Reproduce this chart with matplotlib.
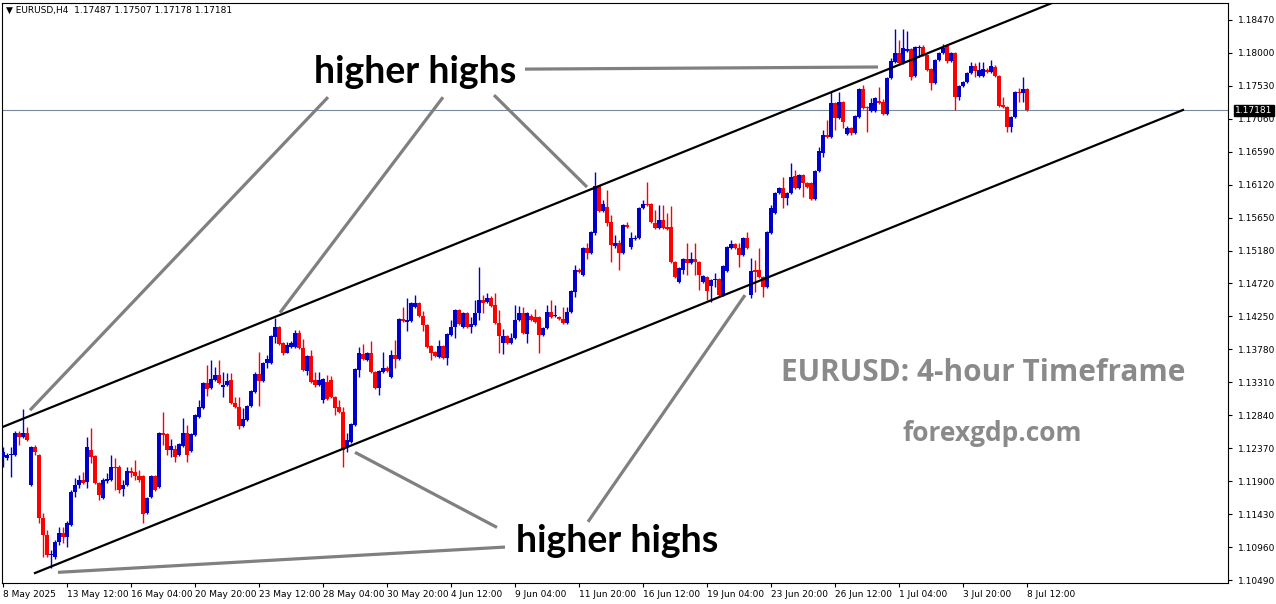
import matplotlib
matplotlib.use("Agg")
import matplotlib.pyplot as plt
import numpy as np

# EURUSD H4 bars, 8 May 2025 20:00 .. 8 Jul 2025 12:00
opens = [
    1.1224, 1.1223, 1.1227, 1.1227, 1.1258, 1.1253, 1.1258, 1.1184, 1.1238, 1.1227,
    1.1137, 1.1113, 1.1085, 1.1082, 1.1103, 1.1116, 1.1110, 1.1127, 1.1174, 1.1184,
    1.1192, 1.1189, 1.1234, 1.1226, 1.1187, 1.1166, 1.1190, 1.1192, 1.1210, 1.1210,
    1.1179, 1.1184, 1.1204, 1.1203, 1.1197, 1.1197, 1.1144, 1.1167, 1.1197, 1.1182,
    1.1258, 1.1257, 1.1234, 1.1236, 1.1227, 1.1240, 1.1258, 1.1233, 1.1256, 1.1281,
    1.1294, 1.1330, 1.1323, 1.1334, 1.1341, 1.1324, 1.1327, 1.1334, 1.1301, 1.1296,
    1.1268, 1.1277, 1.1297, 1.1317, 1.1343, 1.1333, 1.1358, 1.1358, 1.1395, 1.1410,
    1.1387, 1.1373, 1.1381, 1.1381, 1.1401, 1.1380, 1.1347, 1.1368, 1.1334, 1.1327,
    1.1306, 1.1331, 1.1334, 1.1310, 1.1296, 1.1288, 1.1238, 1.1246, 1.1270, 1.1348,
    1.1371, 1.1363, 1.1373, 1.1345, 1.1323, 1.1345, 1.1351, 1.1338, 1.1370, 1.1364,
    1.1421, 1.1417, 1.1418, 1.1438, 1.1444, 1.1425, 1.1412, 1.1382, 1.1374, 1.1367,
    1.1382, 1.1365, 1.1398, 1.1410, 1.1434, 1.1410, 1.1430, 1.1410, 1.1412, 1.1430,
    1.1448, 1.1445, 1.1451, 1.1441, 1.1415, 1.1387, 1.1397, 1.1387, 1.1394, 1.1420,
    1.1430, 1.1400, 1.1425, 1.1424, 1.1424, 1.1398, 1.1408, 1.1431, 1.1425, 1.1424,
    1.1421, 1.1415, 1.1431, 1.1459, 1.1491, 1.1484, 1.1522, 1.1515, 1.1543, 1.1610,
    1.1575, 1.1580, 1.1559, 1.1525, 1.1529, 1.1515, 1.1555, 1.1524, 1.1535, 1.1536,
    1.1579, 1.1585, 1.1585, 1.1558, 1.1551, 1.1562, 1.1552, 1.1552, 1.1502, 1.1474,
    1.1491, 1.1506, 1.1501, 1.1506, 1.1502, 1.1474, 1.1481, 1.1468, 1.1477, 1.1478,
    1.1455, 1.1489, 1.1522, 1.1528, 1.1522, 1.1512, 1.1536, 1.1455, 1.1491, 1.1491,
    1.1481, 1.1467, 1.1543, 1.1572, 1.1601, 1.1608, 1.1593, 1.1601, 1.1625, 1.1608,
    1.1626, 1.1615, 1.1615, 1.1592, 1.1632, 1.1658, 1.1683, 1.1680, 1.1729, 1.1707,
    1.1730, 1.1685, 1.1693, 1.1686, 1.1709, 1.1749, 1.1723, 1.1717, 1.1717, 1.1732,
    1.1730, 1.1713, 1.1764, 1.1787, 1.1800, 1.1786, 1.1803, 1.1806, 1.1767, 1.1807,
    1.1808, 1.1797, 1.1777, 1.1757, 1.1790, 1.1800, 1.1810, 1.1789, 1.1800, 1.1737,
    1.1753, 1.1759, 1.1772, 1.1781, 1.1767, 1.1767, 1.1776, 1.1773, 1.1780, 1.1767,
    1.1726, 1.1723, 1.1695, 1.1709, 1.1744, 1.1743, 1.17487,
]
highs = [
    1.1238, 1.1230, 1.1238, 1.1261, 1.1261, 1.1293, 1.1267, 1.1240, 1.1241, 1.1229,
    1.1144, 1.1120, 1.1092, 1.1106, 1.1124, 1.1124, 1.1133, 1.1177, 1.1194, 1.1199,
    1.1203, 1.1253, 1.1265, 1.1227, 1.1189, 1.1194, 1.1201, 1.1227, 1.1223, 1.1213,
    1.1192, 1.1210, 1.1210, 1.1220, 1.1206, 1.1199, 1.1167, 1.1199, 1.1199, 1.1260,
    1.1288, 1.1258, 1.1250, 1.1241, 1.1244, 1.1280, 1.1270, 1.1258, 1.1286, 1.1306,
    1.1331, 1.1355, 1.1363, 1.1353, 1.1363, 1.1345, 1.1344, 1.1344, 1.1310, 1.1310,
    1.1294, 1.1298, 1.1320, 1.1345, 1.1374, 1.1360, 1.1370, 1.1398, 1.1422, 1.1411,
    1.1388, 1.1388, 1.1390, 1.1405, 1.1405, 1.1392, 1.1370, 1.1377, 1.1345, 1.1345,
    1.1337, 1.1341, 1.1340, 1.1311, 1.1306, 1.1296, 1.1258, 1.1273, 1.1351, 1.1381,
    1.1385, 1.1374, 1.1390, 1.1347, 1.1348, 1.1374, 1.1354, 1.1377, 1.1391, 1.1422,
    1.1438, 1.1451, 1.1445, 1.1455, 1.1445, 1.1432, 1.1414, 1.1384, 1.1375, 1.1391,
    1.1384, 1.1401, 1.1420, 1.1435, 1.1435, 1.1431, 1.1431, 1.1424, 1.1448, 1.1495,
    1.1455, 1.1458, 1.1454, 1.1458, 1.1434, 1.1407, 1.1398, 1.1401, 1.1441, 1.1440,
    1.1438, 1.1431, 1.1428, 1.1435, 1.1425, 1.1410, 1.1441, 1.1448, 1.1441, 1.1425,
    1.1438, 1.1438, 1.1462, 1.1498, 1.1494, 1.1524, 1.1529, 1.1546, 1.1630, 1.1612,
    1.1591, 1.1605, 1.1569, 1.1541, 1.1534, 1.1556, 1.1559, 1.1545, 1.1541, 1.1580,
    1.1591, 1.1616, 1.1586, 1.1576, 1.1583, 1.1583, 1.1572, 1.1582, 1.1504, 1.1495,
    1.1508, 1.1529, 1.1516, 1.1529, 1.1504, 1.1484, 1.1482, 1.1478, 1.1486, 1.1479,
    1.1498, 1.1525, 1.1534, 1.1529, 1.1529, 1.1538, 1.1545, 1.1508, 1.1505, 1.1522,
    1.1482, 1.1546, 1.1583, 1.1602, 1.1609, 1.1623, 1.1602, 1.1643, 1.1633, 1.1628,
    1.1628, 1.1616, 1.1616, 1.1633, 1.1666, 1.1690, 1.1705, 1.1744, 1.1730, 1.1744,
    1.1732, 1.1696, 1.1695, 1.1712, 1.1750, 1.1754, 1.1724, 1.1736, 1.1737, 1.1752,
    1.1734, 1.1766, 1.1793, 1.1834, 1.1818, 1.1834, 1.1831, 1.1807, 1.1810, 1.1811,
    1.1811, 1.1799, 1.1779, 1.1791, 1.1801, 1.1813, 1.1811, 1.1801, 1.1801, 1.1754,
    1.1760, 1.1773, 1.1787, 1.1786, 1.1787, 1.1787, 1.1779, 1.1790, 1.1783, 1.1769,
    1.1737, 1.1724, 1.1710, 1.1746, 1.1750, 1.1766, 1.17507,
]
lows = [
    1.1210, 1.1220, 1.1196, 1.1226, 1.1241, 1.1251, 1.1247, 1.1183, 1.1227, 1.1130,
    1.1082, 1.1082, 1.1066, 1.1079, 1.1099, 1.1102, 1.1096, 1.1126, 1.1167, 1.1180,
    1.1186, 1.1180, 1.1216, 1.1186, 1.1163, 1.1164, 1.1187, 1.1190, 1.1177, 1.1173,
    1.1169, 1.1183, 1.1196, 1.1192, 1.1189, 1.1130, 1.1143, 1.1166, 1.1176, 1.1180,
    1.1241, 1.1227, 1.1224, 1.1217, 1.1226, 1.1238, 1.1217, 1.1231, 1.1254, 1.1280,
    1.1293, 1.1311, 1.1321, 1.1333, 1.1328, 1.1310, 1.1325, 1.1300, 1.1294, 1.1264,
    1.1267, 1.1276, 1.1296, 1.1316, 1.1297, 1.1331, 1.1351, 1.1357, 1.1387, 1.1384,
    1.1370, 1.1372, 1.1380, 1.1380, 1.1378, 1.1347, 1.1341, 1.1330, 1.1324, 1.1325,
    1.1301, 1.1306, 1.1308, 1.1284, 1.1287, 1.1210, 1.1231, 1.1244, 1.1268, 1.1338,
    1.1363, 1.1361, 1.1344, 1.1321, 1.1313, 1.1344, 1.1345, 1.1337, 1.1351, 1.1363,
    1.1417, 1.1404, 1.1417, 1.1437, 1.1424, 1.1404, 1.1380, 1.1363, 1.1367, 1.1365,
    1.1364, 1.1355, 1.1397, 1.1394, 1.1412, 1.1408, 1.1408, 1.1401, 1.1411, 1.1420,
    1.1430, 1.1444, 1.1438, 1.1414, 1.1373, 1.1371, 1.1385, 1.1385, 1.1392, 1.1418,
    1.1400, 1.1387, 1.1418, 1.1415, 1.1373, 1.1397, 1.1407, 1.1422, 1.1424, 1.1420,
    1.1414, 1.1414, 1.1430, 1.1452, 1.1486, 1.1482, 1.1506, 1.1514, 1.1541, 1.1573,
    1.1573, 1.1553, 1.1502, 1.1522, 1.1491, 1.1514, 1.1551, 1.1521, 1.1534, 1.1535,
    1.1578, 1.1582, 1.1558, 1.1549, 1.1549, 1.1549, 1.1548, 1.1501, 1.1479, 1.1472,
    1.1485, 1.1484, 1.1499, 1.1484, 1.1462, 1.1472, 1.1448, 1.1445, 1.1467, 1.1454,
    1.1454, 1.1488, 1.1521, 1.1521, 1.1495, 1.1511, 1.1521, 1.1451, 1.1459, 1.1479,
    1.1452, 1.1465, 1.1542, 1.1571, 1.1599, 1.1579, 1.1583, 1.1599, 1.1606, 1.1606,
    1.1595, 1.1608, 1.1591, 1.1591, 1.1630, 1.1652, 1.1679, 1.1679, 1.1690, 1.1706,
    1.1693, 1.1683, 1.1683, 1.1685, 1.1707, 1.1720, 1.1687, 1.1716, 1.1716, 1.1727,
    1.1712, 1.1712, 1.1763, 1.1786, 1.1783, 1.1784, 1.1801, 1.1761, 1.1766, 1.1794,
    1.1796, 1.1774, 1.1747, 1.1756, 1.1789, 1.1799, 1.1786, 1.1787, 1.1719, 1.1733,
    1.1752, 1.1757, 1.1770, 1.1766, 1.1766, 1.1766, 1.1771, 1.1771, 1.1766, 1.1723,
    1.1722, 1.1687, 1.1687, 1.1707, 1.1730, 1.1730, 1.17178,
]
closes = [
    1.1231, 1.1227, 1.1228, 1.1258, 1.1253, 1.1258, 1.1248, 1.1238, 1.1231, 1.1137,
    1.1113, 1.1085, 1.1086, 1.1103, 1.1116, 1.1110, 1.1130, 1.1174, 1.1184, 1.1192,
    1.1187, 1.1238, 1.1224, 1.1187, 1.1170, 1.1192, 1.1193, 1.1210, 1.1209, 1.1177,
    1.1184, 1.1204, 1.1201, 1.1197, 1.1192, 1.1143, 1.1166, 1.1197, 1.1177, 1.1258,
    1.1256, 1.1234, 1.1240, 1.1224, 1.1243, 1.1258, 1.1227, 1.1257, 1.1284, 1.1296,
    1.1330, 1.1321, 1.1335, 1.1341, 1.1330, 1.1327, 1.1333, 1.1301, 1.1296, 1.1268,
    1.1278, 1.1297, 1.1318, 1.1343, 1.1333, 1.1358, 1.1364, 1.1397, 1.1410, 1.1385,
    1.1373, 1.1384, 1.1387, 1.1401, 1.1380, 1.1348, 1.1368, 1.1331, 1.1327, 1.1334,
    1.1335, 1.1307, 1.1310, 1.1294, 1.1288, 1.1234, 1.1248, 1.1271, 1.1350, 1.1373,
    1.1364, 1.1373, 1.1345, 1.1323, 1.1347, 1.1351, 1.1347, 1.1370, 1.1364, 1.1421,
    1.1418, 1.1420, 1.1444, 1.1444, 1.1425, 1.1412, 1.1381, 1.1373, 1.1368, 1.1382,
    1.1365, 1.1400, 1.1410, 1.1434, 1.1414, 1.1430, 1.1410, 1.1414, 1.1430, 1.1448,
    1.1444, 1.1451, 1.1440, 1.1415, 1.1397, 1.1397, 1.1387, 1.1394, 1.1420, 1.1430,
    1.1401, 1.1430, 1.1420, 1.1417, 1.1398, 1.1408, 1.1431, 1.1424, 1.1427, 1.1421,
    1.1415, 1.1431, 1.1461, 1.1491, 1.1488, 1.1522, 1.1515, 1.1545, 1.1610, 1.1575,
    1.1585, 1.1558, 1.1526, 1.1529, 1.1515, 1.1555, 1.1552, 1.1536, 1.1536, 1.1579,
    1.1585, 1.1583, 1.1559, 1.1551, 1.1562, 1.1551, 1.1549, 1.1502, 1.1481, 1.1494,
    1.1506, 1.1501, 1.1506, 1.1502, 1.1484, 1.1482, 1.1461, 1.1477, 1.1478, 1.1455,
    1.1496, 1.1524, 1.1528, 1.1522, 1.1512, 1.1536, 1.1522, 1.1489, 1.1488, 1.1481,
    1.1467, 1.1545, 1.1579, 1.1601, 1.1608, 1.1593, 1.1601, 1.1623, 1.1608, 1.1626,
    1.1615, 1.1609, 1.1592, 1.1632, 1.1660, 1.1683, 1.1680, 1.1729, 1.1707, 1.1730,
    1.1702, 1.1693, 1.1686, 1.1710, 1.1749, 1.1722, 1.1722, 1.1729, 1.1736, 1.1729,
    1.1713, 1.1764, 1.1789, 1.1800, 1.1786, 1.1807, 1.1806, 1.1766, 1.1808, 1.1808,
    1.1797, 1.1776, 1.1757, 1.1790, 1.1800, 1.1807, 1.1789, 1.1800, 1.1737, 1.1753,
    1.1759, 1.1772, 1.1781, 1.1774, 1.1776, 1.1777, 1.1773, 1.1781, 1.1767, 1.1724,
    1.1723, 1.1695, 1.1709, 1.1744, 1.1743, 1.1749, 1.17181,
]

date_ticks = [
    "8 May 2025", "13 May 12:00", "16 May 04:00", "20 May 20:00", "23 May 12:00",
    "28 May 04:00", "30 May 20:00", "4 Jun 12:00", "9 Jun 04:00", "11 Jun 20:00",
    "16 Jun 12:00", "19 Jun 04:00", "23 Jun 20:00", "26 Jun 12:00", "1 Jul 04:00",
    "3 Jul 20:00", "8 Jul 12:00",
]
price_ticks = [
    1.10490, 1.10960, 1.11430, 1.11900, 1.12370, 1.12840, 1.13310, 1.13780, 1.14250,
    1.14720, 1.15180, 1.15650, 1.16120, 1.16590, 1.17060, 1.17530, 1.18000, 1.18470,
]

# channel lines as (bar, price) pairs
upper_channel = [(-0.75, 1.12656), (262.25, 1.18712)]
lower_channel = [(8.0, 1.10590), (295.0, 1.17188)]

# label anchors (bar, price) and pointer lines
top_label = (103.0, 1.1773)
bottom_label = (153.5, 1.1105)
top_pointers = [
    [(130.5, 1.1777), (218.75, 1.1780)],
    [(81.25, 1.1737), (6.75, 1.1291)],
    [(110.0, 1.1737), (69.25, 1.1430)],
    [(122.75, 1.1740), (146.0, 1.1609)],
]
bottom_pointers = [
    [(123.5, 1.1124), (88.0, 1.1231)],
    [(146.25, 1.1132), (185.5, 1.1455)],
    [(125.5, 1.1096), (13.75, 1.1060)],
]

BLUE = "#0000cd"
RED = "#ff0000"
GREY = "#808080"

fig = plt.figure(figsize=(12.76, 6.04), dpi=100)
ax = fig.add_axes([2 / 1276, 21 / 604, 1226 / 1276, 580 / 604])

x = np.arange(len(closes))
o = np.array(opens)
c = np.array(closes)
colors = np.where(c >= o, BLUE, RED)

ax.vlines(x, lows, highs, colors=colors, linewidth=1.0, zorder=3)
body_low = np.minimum(o, c)
body_h = np.maximum(np.abs(c - o), 0.00004)
ax.bar(x, body_h, bottom=body_low, width=0.78, color=colors, linewidth=0, zorder=3)

# current price line
ax.axhline(closes[-1], color="#778899", linewidth=0.8, zorder=2)

for line in (upper_channel, lower_channel):
    xs, ys = zip(*line)
    ax.plot(xs, ys, color="black", linewidth=1.6, zorder=4)

for seg in top_pointers + bottom_pointers:
    xs, ys = zip(*seg)
    ax.plot(xs, ys, color=GREY, linewidth=2.3, solid_capstyle="butt", zorder=4)

ax.text(*top_label, "higher highs", fontsize=27, fontweight="bold", family="Lato",
        ha="center", va="center", color="black", zorder=5)
ax.text(*bottom_label, "higher highs", fontsize=27, fontweight="bold", family="Lato",
        ha="center", va="center", color="black", zorder=5)

ax.text(0.800, 0.362, "EURUSD: 4-hour Timeframe", transform=ax.transAxes, fontsize=21.4,
        fontweight="bold", family="Open Sans", color="#8a8a8a", ha="center", va="center")
ax.text(0.808, 0.2586, "forexgdp.com", transform=ax.transAxes, fontsize=19,
        fontweight="bold", family="Open Sans", color="#8a8a8a", ha="center", va="center")

ax.set_xlim(-0.25, 306.25)
ax.set_ylim(1.10448, 1.18712)

ax.yaxis.tick_right()
ax.set_yticks(price_ticks)
ax.set_yticklabels([f"{p:.5f}" for p in price_ticks])
ax.set_xticks(np.arange(len(date_ticks)) * 16)
ax.set_xticklabels(date_ticks, ha="left")
ax.tick_params(axis="both", direction="out", length=3, width=0.8, labelsize=6.5,
               colors="black")
ax.tick_params(axis="y", pad=4)
ax.tick_params(axis="x", pad=2)
for lab in ax.get_xticklabels() + ax.get_yticklabels():
    lab.set_family("DejaVu Sans")
for spine in ax.spines.values():
    spine.set_linewidth(0.8)

# last price tag on the price scale
ax.annotate(f"{closes[-1]:.5f}", xy=(1.0, closes[-1]), xycoords=("axes fraction", "data"),
            xytext=(5, 0), textcoords="offset points", fontsize=6.5, color="white",
            va="center", ha="left", family="DejaVu Sans", annotation_clip=False,
            bbox=dict(boxstyle="square,pad=0.15", fc="black", ec="black"), zorder=10)

fig.text(6 / 1276, 1 - 10 / 604,
         f"\u25bc EURUSD,H4  {opens[-1]:.5f} {highs[-1]:.5f} {lows[-1]:.5f} {closes[-1]:.5f}",
         fontsize=6.5, family="DejaVu Sans", va="center", ha="left")

fig.savefig("out.png", dpi=100, facecolor="white")
